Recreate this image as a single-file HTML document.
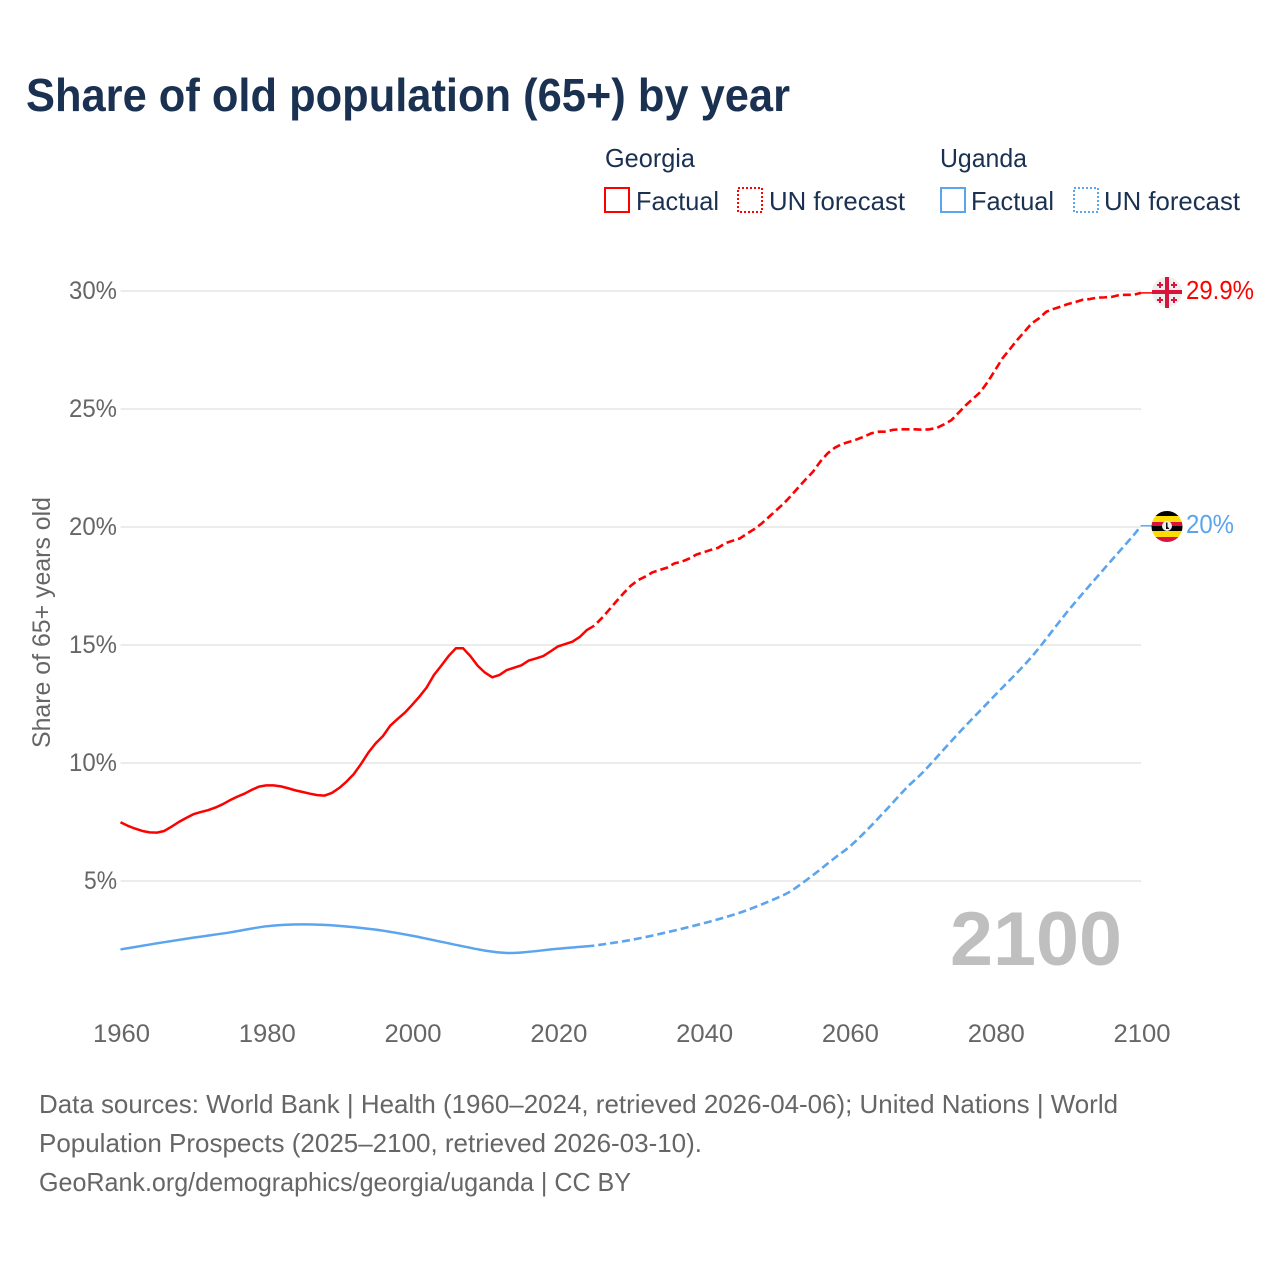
<!DOCTYPE html>
<html lang="en">
<head>
<meta charset="utf-8">
<title>Share of old population (65+) by year</title>
<style>
html,body{margin:0;padding:0;background:#fff;}
svg{display:block;font-family:"Liberation Sans",Arial,sans-serif;}
</style>
</head>
<body>
<svg id="chart" xmlns="http://www.w3.org/2000/svg" width="1280" height="1280" viewBox="0 0 1280 1280">
  <rect x="0" y="0" width="1280" height="1280" fill="#fff"/>
  <text x="26" y="111" font-size="46" font-weight="700" fill="#1a3152" textLength="764" lengthAdjust="spacingAndGlyphs">Share of old population (65+) by year</text>

  <g font-size="26" fill="#1a3152">
    <text x="605" y="167" textLength="90" lengthAdjust="spacingAndGlyphs">Georgia</text>
    <text x="940" y="167" textLength="87" lengthAdjust="spacingAndGlyphs">Uganda</text>
    <rect x="605" y="188" width="24" height="24" fill="none" stroke="#ff0000" stroke-width="2"/>
    <text x="636" y="210" textLength="83" lengthAdjust="spacingAndGlyphs">Factual</text>
    <rect x="738" y="188" width="24" height="24" fill="none" stroke="#ff0000" stroke-width="2" stroke-dasharray="2 2"/>
    <text x="769" y="210" textLength="136" lengthAdjust="spacingAndGlyphs">UN forecast</text>
    <rect x="941" y="188" width="24" height="24" fill="none" stroke="#5ba4ee" stroke-width="2"/>
    <text x="971" y="210" textLength="83" lengthAdjust="spacingAndGlyphs">Factual</text>
    <rect x="1074" y="188" width="24" height="24" fill="none" stroke="#5ba4ee" stroke-width="2" stroke-dasharray="2 2"/>
    <text x="1104" y="210" textLength="136" lengthAdjust="spacingAndGlyphs">UN forecast</text>
  </g>

  <g id="grid"></g>
  <g id="yticks" font-size="25" fill="#666"></g>
  <g id="xticks" font-size="25" fill="#666"></g>
  <text transform="translate(50,748) rotate(-90)" font-size="25" fill="#666" textLength="251" lengthAdjust="spacingAndGlyphs">Share of 65+ years old</text>
  <text x="950" y="965" font-size="76" font-weight="700" fill="#bfbfbf" textLength="172" lengthAdjust="spacingAndGlyphs">2100</text>

  <g id="series"></g>

  <g>
    <circle cx="1167" cy="292" r="15" fill="#eeeeee"/>
    <rect x="1165" y="277" width="4" height="31" fill="#d9143c"/>
    <rect x="1152" y="290" width="30" height="4" fill="#d9143c"/>
    <path fill="none" stroke="#d9143c" stroke-width="2" d="M1157 285h6M1160 282v6M1171 285h6M1174 282v6M1157 300h6M1160 297v6M1171 300h6M1174 297v6"/>
  </g>
  <g>
    <clipPath id="ugclip"><circle cx="1167" cy="526.500" r="15.500"/></clipPath>
    <g clip-path="url(#ugclip)">
      <rect x="1151" y="511" width="32" height="5" fill="#000"/>
      <rect x="1151" y="516" width="32" height="6" fill="#fcdc04"/>
      <rect x="1151" y="522" width="32" height="4" fill="#d9143c"/>
      <rect x="1151" y="526" width="32" height="5" fill="#000"/>
      <rect x="1151" y="531" width="32" height="6" fill="#fcdc04"/>
      <rect x="1151" y="537" width="32" height="5" fill="#d9143c"/>
    </g>
    <circle cx="1167" cy="526" r="5" fill="#eee"/>
    <path d="M1166 522.500h1.500v4l2 2.500h-3.500z" fill="#111"/>
  </g>
  <text id="label-georgia" x="1186" y="299" font-size="26" fill="#ff0000" textLength="68" lengthAdjust="spacingAndGlyphs">29.9%</text>
  <text id="label-uganda" x="1186" y="533" font-size="26" fill="#5ba4ee" textLength="48" lengthAdjust="spacingAndGlyphs">20%</text>

  <g font-size="26" fill="#666">
    <text x="39" y="1113" textLength="1079" lengthAdjust="spacingAndGlyphs">Data sources: World Bank | Health (1960–2024, retrieved 2026-04-06); United Nations | World</text>
    <text x="39" y="1152" textLength="663" lengthAdjust="spacingAndGlyphs">Population Prospects (2025–2100, retrieved 2026-03-10).</text>
    <text x="39" y="1191" textLength="592" lengthAdjust="spacingAndGlyphs">GeoRank.org/demographics/georgia/uganda | CC BY</text>
  </g>
</svg>
<script>
const yTicks = [5, 10, 15, 20, 25, 30];
const xTicks = [1960, 1980, 2000, 2020, 2040, 2060, 2080, 2100];

// Georgia: one value per year, 1960..2025 (factual) then 2025..2100 (forecast)
const georgiaFactual = [
  7.49,7.34,7.22,7.12,7.06,7.05,7.12,7.30,7.50,7.67,
  7.83,7.92,8.00,8.11,8.25,8.42,8.57,8.70,8.86,9.00,
  9.05,9.05,9.01,8.93,8.84,8.77,8.70,8.64,8.62,8.73,
  8.94,9.21,9.53,9.96,10.44,10.83,11.14,11.58,11.86,12.13,
  12.46,12.81,13.20,13.73,14.12,14.53,14.86,14.86,14.53,14.12,
  13.83,13.63,13.73,13.94,14.04,14.14,14.34,14.43,14.53,14.73,
  14.94,15.04,15.14,15.34,15.64,15.82
];
const georgiaForecast = [
  15.82,16.13,16.48,16.84,17.19,17.51,17.75,17.90,18.08,18.18,
  18.28,18.46,18.53,18.66,18.83,18.93,19.03,19.12,19.32,19.42,
  19.52,19.73,19.92,20.16,20.44,20.72,21.00,21.33,21.68,22.02,
  22.34,22.77,23.12,23.36,23.52,23.61,23.71,23.83,23.97,24.04,
  24.04,24.12,24.14,24.14,24.14,24.12,24.14,24.20,24.35,24.53,
  24.85,25.17,25.45,25.73,26.16,26.65,27.15,27.53,27.92,28.27,
  28.63,28.84,29.12,29.24,29.34,29.45,29.53,29.63,29.66,29.72,
  29.73,29.75,29.83,29.84,29.84,29.92
];

// Uganda: values read at these years
const ugandaFactualYears = [1960,1965,1970,1975,1980,1985,1990,1995,2000,2005,2010,2013,2015,2020,2025];
const ugandaFactual = [2.10,2.36,2.60,2.82,3.08,3.16,3.10,2.94,2.68,2.36,2.05,1.95,1.97,2.13,2.26];
const ugandaForecastYears = [2025,2030,2035,2040,2045,2050,2052,2055,2058,2060,2062,2065,2068,2070,2075,2080,2085,2090,2095,2099,2100];
const ugandaForecast = [2.26,2.50,2.83,3.21,3.66,4.27,4.58,5.25,5.98,6.45,7.03,8.00,9.00,9.58,11.27,12.88,14.50,16.45,18.25,19.66,20.05];

const NS = 'http://www.w3.org/2000/svg';
const xScale = function (year) { return 120.5 + (year - 1960) * (1141 - 120.5) / 140; };
const yScale = function (v) { return 999 - v * 23.6; };

function make(tag, parent) {
  const el = document.createElementNS(NS, tag);
  parent.appendChild(el);
  return el;
}
function straightPath(pts) {
  return pts.map(function (p, i) { return (i ? 'L' : 'M') + p[0].toFixed(2) + ' ' + p[1].toFixed(2); }).join('');
}
function smoothPath(pts) {
  let d = 'M' + pts[0][0].toFixed(2) + ' ' + pts[0][1].toFixed(2);
  for (let i = 0; i < pts.length - 1; i++) {
    const p0 = pts[Math.max(i - 1, 0)], p1 = pts[i], p2 = pts[i + 1], p3 = pts[Math.min(i + 2, pts.length - 1)];
    const h = p2[0] - p1[0];
    const m1 = (p2[1] - p0[1]) / ((p2[0] - p0[0]) || 1);
    const m2 = (p3[1] - p1[1]) / ((p3[0] - p1[0]) || 1);
    d += 'C' + (p1[0] + h / 3).toFixed(2) + ' ' + (p1[1] + m1 * h / 3).toFixed(2) + ' ' +
         (p2[0] - h / 3).toFixed(2) + ' ' + (p2[1] - m2 * h / 3).toFixed(2) + ' ' +
         p2[0].toFixed(2) + ' ' + p2[1].toFixed(2);
  }
  return d;
}
function yearly(values, startYear) {
  return values.map(function (v, i) { return [xScale(startYear + i), yScale(v)]; });
}
function paired(years, values) {
  return values.map(function (v, i) { return [xScale(years[i]), yScale(v)]; });
}

const grid = document.getElementById('grid');
const yTickGroup = document.getElementById('yticks');
const xTickGroup = document.getElementById('xticks');
const seriesGroup = document.getElementById('series');

yTicks.forEach(function (t) {
  const line = make('line', grid);
  
  
  line.setAttribute('x1', xScale(1960));
  line.setAttribute('x2', xScale(2100));
  line.setAttribute('y1', yScale(t));
  line.setAttribute('y2', yScale(t));
  line.setAttribute('stroke', '#ececec');
  line.setAttribute('stroke-width', '2');
  const label = make('text', yTickGroup);
  
  
  label.setAttribute('x', 117);
  label.setAttribute('y', yScale(t) + 8);
  label.setAttribute('text-anchor', 'end');
  label.setAttribute('textLength', t < 10 ? 33 : 48);
  label.setAttribute('lengthAdjust', 'spacingAndGlyphs');
  label.textContent = t + '%';
});

xTicks.forEach(function (t) {
  const label = make('text', xTickGroup);
  
  
  label.setAttribute('x', xScale(t) + 1);
  label.setAttribute('y', 1042);
  label.setAttribute('text-anchor', 'middle');
  label.setAttribute('textLength', 57);
  label.setAttribute('lengthAdjust', 'spacingAndGlyphs');
  label.textContent = t;
});

function drawLine(name, d, color, width, dashed) {
  const path = make('path', seriesGroup);
  
  
  path.setAttribute('d', d);
  path.setAttribute('fill', 'none');
  path.setAttribute('stroke', color);
  path.setAttribute('stroke-width', width);
  path.setAttribute('stroke-linejoin', 'round');
  if (dashed) {
    path.setAttribute('stroke-dasharray', '8 4');
    path.setAttribute('stroke-dashoffset', '8');
  }
}

const georgiaFc = yearly(georgiaForecast, 2025);
const ugandaFc = paired(ugandaForecastYears, ugandaForecast);
drawLine('georgia-factual-line', straightPath(yearly(georgiaFactual, 1960)), '#ff0000', 2.5, false);
drawLine('georgia-forecast-line', straightPath(georgiaFc), '#ff0000', 2.6, true);
drawLine('uganda-factual-line', smoothPath(paired(ugandaFactualYears, ugandaFactual)), '#5ba4ee', 2.5, false);
drawLine('uganda-forecast-line', smoothPath(ugandaFc), '#5ba4ee', 2.6, true);

const gEnd = georgiaFc[georgiaFc.length - 1];
const uEnd = ugandaFc[ugandaFc.length - 1];
drawLine('georgia-end-connector', 'M' + gEnd[0] + ' ' + gEnd[1] + 'L1153 ' + gEnd[1], '#ff0000', 1.5, false);
drawLine('uganda-end-connector', 'M' + uEnd[0] + ' ' + uEnd[1] + 'L1153 ' + uEnd[1], '#5ba4ee', 1.5, false);
</script>
</body>
</html>
